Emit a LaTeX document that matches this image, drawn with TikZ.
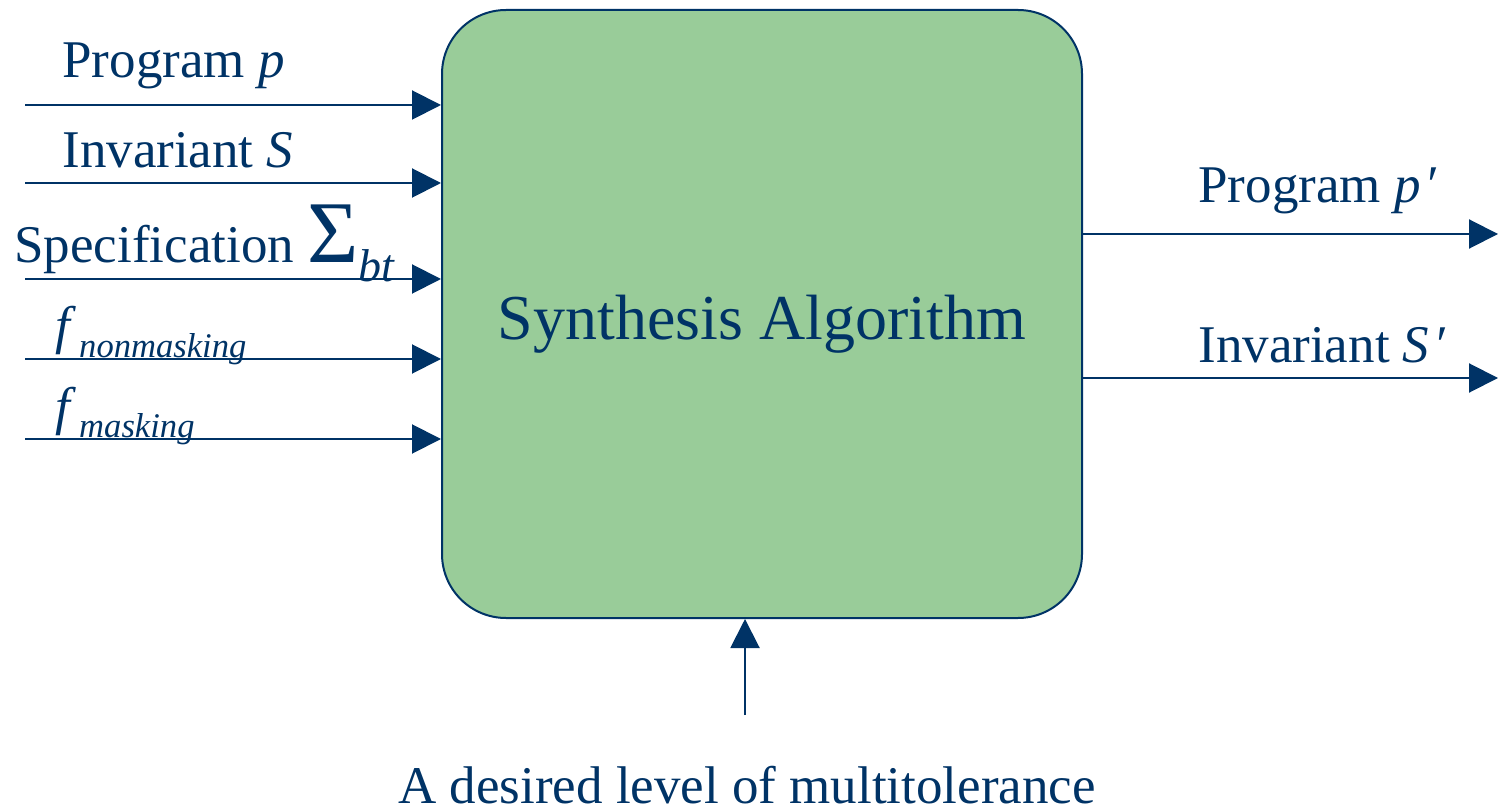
\documentclass[tikz,border=0pt]{standalone}
\usepackage{fontspec}
\setmainfont{Liberation Serif}
\usetikzlibrary{arrows.meta}
\definecolor{navy}{HTML}{003366}
\definecolor{boxgreen}{HTML}{99CC99}
\begin{document}
\begin{tikzpicture}[x=0.5pt,y=-0.5pt,
  arr/.style={draw=navy, line width=1pt, -{Triangle[length=14.5pt,width=14.5pt]}},
  lbl/.style={anchor=base west, inner sep=0pt, text=navy, font=\fontsize{26.5}{30}\selectfont},
  algbox/.style={draw=navy, fill=boxgreen, line width=1pt, rounded corners=32pt,
    minimum width=320pt, minimum height=304pt, inner sep=0pt}]
\useasboundingbox (0,0) rectangle (1498,812);

\node[algbox] (alg) at (762,314) {};
\node[anchor=base, inner sep=0pt, text=navy, font=\fontsize{32}{36}\selectfont] (title) at (762,340) {Synthesis Algorithm};

% inputs
\coordinate (in1) at (25,105);
\coordinate (in2) at (25,183);
\coordinate (in3) at (25,279);
\coordinate (in4) at (25,359);
\coordinate (in5) at (25,439);
\draw[arr] (in1) -- (in1 -| alg.west);
\draw[arr] (in2) -- (in2 -| alg.west);
\draw[arr] (in3) -- (in3 -| alg.west);
\draw[arr] (in4) -- (in4 -| alg.west);
\draw[arr] (in5) -- (in5 -| alg.west);

\node[lbl] (l1) at (62,78) {Program \textit{p}};
\node[lbl] (l2) at (62,168) {Invariant \textit{S}};
\node[lbl] (l3) at (14,263) {Specification {\fontsize{44}{48}\selectfont Σ}\raisebox{-9.5pt}{\fontsize{23}{26}\selectfont\itshape bt}};
\node[lbl] (l4) at (55,344) {\textit{f}\kern1.5pt\raisebox{-6.5pt}{\fontsize{17.3}{20}\selectfont\itshape nonmasking}};
\node[lbl] (l5) at (55,424) {\textit{f}\kern1.5pt\raisebox{-6.5pt}{\fontsize{17.3}{20}\selectfont\itshape masking}};

% outputs
\coordinate (out1) at (1498,234);
\coordinate (out2) at (1498,378);
\draw[arr] (alg.east |- out1) -- (out1);
\draw[arr] (alg.east |- out2) -- (out2);
\node[lbl] (r1) at (1198,203) {Program \textit{p\kern2pt′}};
\node[lbl] (r2) at (1198,363) {Invariant \textit{S\kern2pt′}};

% bottom
\coordinate (lvl) at (745,715);
\draw[arr] (lvl) -- (lvl |- alg.south);
\node[anchor=base, inner sep=0pt, text=navy, font=\fontsize{26.5}{30}\selectfont] (bt) at (747,803) {A desired level of multitolerance};
\end{tikzpicture}
\end{document}
